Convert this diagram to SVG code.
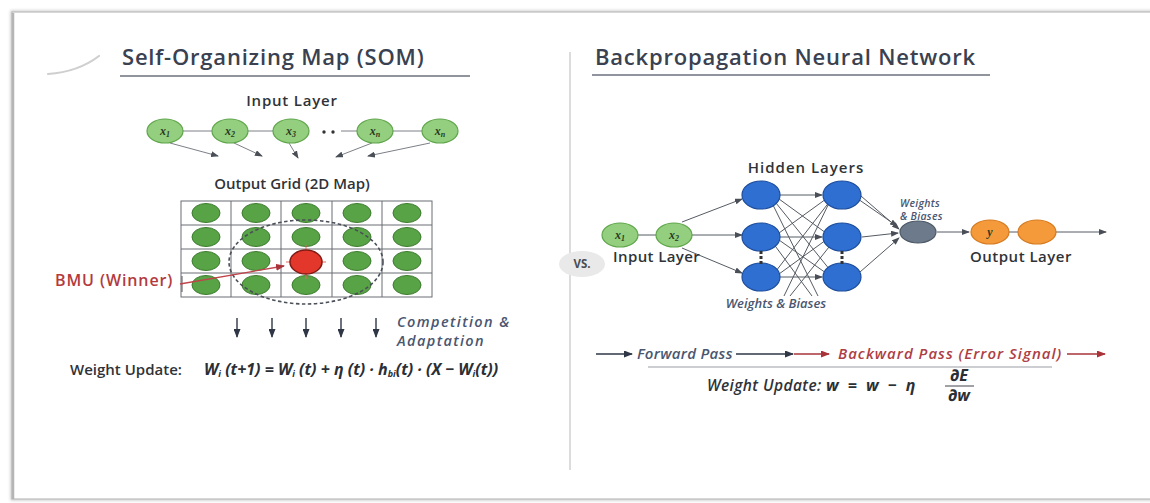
<svg xmlns="http://www.w3.org/2000/svg" width="1150" height="503" viewBox="0 0 1150 503">
<style>
  .title{font-family:"Open Sans","Liberation Sans",sans-serif;font-size:22px;font-weight:600;letter-spacing:0.8px;fill:#3a4150}
  .lbl{font-family:"Open Sans","Liberation Sans",sans-serif;font-size:15px;font-weight:600;fill:#2f3338}
  .ital{font-family:"Open Sans","Liberation Sans",sans-serif;font-style:italic;font-weight:600;fill:#4a5670}
  .var{font-family:"Liberation Serif","DejaVu Serif",serif;font-style:italic;font-weight:700;font-size:12px;fill:#2a3a22}
  .math{font-family:"Open Sans","Liberation Sans",sans-serif;font-style:italic;font-weight:700;font-size:16px;fill:#2b2f36}
  .inNode{fill:#94cf7f;stroke:#5fa64b;stroke-width:1.2}
  .gridNode{fill:#58a346;stroke:#3d7b2f;stroke-width:1}
  .blue{fill:#2f6fd2;stroke:#1c4d9c;stroke-width:1.2}
  .edge{stroke:#555b63;stroke-width:1;fill:none}
  .gedge{stroke:#7c8087;stroke-width:1;fill:none}
  .dark{stroke:#2f3746;stroke-width:1.4;fill:none}
  .red{stroke:#a8343a;stroke-width:1.4;fill:none}
</style>
<defs>
  <marker id="ah" markerWidth="8" markerHeight="6" refX="7" refY="3" orient="auto" markerUnits="userSpaceOnUse">
    <path d="M0,0 L8,3 L0,6 Z" fill="#4a4f57"/>
  </marker>
  <marker id="ahDark" markerWidth="9" markerHeight="7" refX="8" refY="3.5" orient="auto" markerUnits="userSpaceOnUse">
    <path d="M0,0 L9,3.5 L0,7 Z" fill="#2f3746"/>
  </marker>
  <marker id="ahRed" markerWidth="9" markerHeight="7" refX="8" refY="3.5" orient="auto" markerUnits="userSpaceOnUse">
    <path d="M0,0 L9,3.5 L0,7 Z" fill="#a8343a"/>
  </marker>
  <filter id="shadow" x="-2%" y="-2%" width="104%" height="104%">
    <feGaussianBlur stdDeviation="1.5"/>
  </filter>
</defs>

<!-- card frame -->
<rect x="0" y="0" width="1150" height="503" fill="#ffffff"/>
<rect x="12" y="12" width="1150" height="487" fill="none" stroke="#c9c9c9" stroke-width="3" filter="url(#shadow)"/>
<rect x="12" y="12" width="1150" height="487" fill="#ffffff" stroke="#bdbdbd" stroke-width="1.2"/>
<line x1="13" y1="13" x2="13" y2="499" stroke="#b5b5b5" stroke-width="2.5"/>

<!-- corner swoosh -->
<path d="M48,74 Q78,72 99,56" fill="none" stroke="#cfcfcf" stroke-width="2.2" stroke-linecap="round"/>

<!-- column divider -->
<line x1="570" y1="52" x2="570" y2="470" stroke="#d0d0d0" stroke-width="1.5"/>

<!-- titles -->
<g id="title-som">
  <text class="title" x="122" y="65">Self-Organizing Map (SOM)</text>
  <line x1="120" y1="76" x2="470" y2="76" stroke="#6b717c" stroke-width="1.3"/>
</g>
<g id="title-bp">
  <text class="title" x="595" y="65" letter-spacing="1">Backpropagation Neural Network</text>
  <line x1="592" y1="75" x2="990" y2="75" stroke="#6b717c" stroke-width="1.3"/>
</g>

<!-- ============ SOM ============ -->
<text class="lbl" x="292" y="106" text-anchor="middle" font-size="15.5" letter-spacing="0.8">Input Layer</text>

<g id="connectors-som">
  <!-- chain between input units -->
  <line class="gedge" x1="183" y1="131" x2="212" y2="131"/>
  <line class="gedge" x1="248" y1="131" x2="273" y2="131"/>
  <line class="gedge" x1="341" y1="131" x2="357" y2="131"/>
  <line class="gedge" x1="393" y1="131" x2="422" y2="131"/>
  <!-- inputs feeding the map -->
  <line class="gedge" x1="170" y1="143" x2="218" y2="156" marker-end="url(#ah)"/>
  <line class="gedge" x1="234" y1="143" x2="262" y2="156" marker-end="url(#ah)"/>
  <line class="gedge" x1="289" y1="143" x2="298" y2="158" marker-end="url(#ah)"/>
  <line class="gedge" x1="372" y1="143" x2="336" y2="157" marker-end="url(#ah)"/>
  <line class="gedge" x1="430" y1="143" x2="368" y2="156" marker-end="url(#ah)"/>
</g>

<g id="som-x1"><ellipse class="inNode" cx="165" cy="131" rx="18" ry="12"/><text class="var" x="165" y="135" text-anchor="middle">x<tspan font-size="8" dy="2">1</tspan></text></g>
<g id="som-x2"><ellipse class="inNode" cx="230" cy="131" rx="18" ry="12"/><text class="var" x="230" y="135" text-anchor="middle">x<tspan font-size="8" dy="2">2</tspan></text></g>
<g id="som-x3"><ellipse class="inNode" cx="291" cy="131" rx="18" ry="12"/><text class="var" x="291" y="135" text-anchor="middle">x<tspan font-size="8" dy="2">3</tspan></text></g>
<g id="som-dots"><circle cx="324" cy="132" r="1.7" fill="#333"/><circle cx="333" cy="132" r="1.7" fill="#333"/></g>
<g id="som-xn1"><ellipse class="inNode" cx="375" cy="131" rx="18" ry="12"/><text class="var" x="375" y="135" text-anchor="middle">x<tspan font-size="8" dy="2">n</tspan></text></g>
<g id="som-xn2"><ellipse class="inNode" cx="440" cy="131" rx="18" ry="12"/><text class="var" x="440" y="135" text-anchor="middle">x<tspan font-size="8" dy="2">n</tspan></text></g>

<text class="lbl" x="292" y="189" text-anchor="middle" font-size="15.5">Output Grid (2D Map)</text>

<!-- output map grid -->
<g id="som-grid" stroke="#6a6d72" stroke-width="1" fill="none">
  <rect x="181" y="201" width="251" height="96"/>
  <line x1="231" y1="201" x2="231" y2="297"/>
  <line x1="281" y1="201" x2="281" y2="297"/>
  <line x1="332" y1="201" x2="332" y2="297"/>
  <line x1="382" y1="201" x2="382" y2="297"/>
  <line x1="181" y1="225" x2="432" y2="225"/>
  <line x1="181" y1="249" x2="432" y2="249"/>
  <line x1="181" y1="273" x2="432" y2="273"/>
</g>
<g id="som-units">
  <ellipse class="gridNode" cx="206" cy="213" rx="14" ry="9.5"/>
  <ellipse class="gridNode" cx="256" cy="213" rx="14" ry="9.5"/>
  <ellipse class="gridNode" cx="306" cy="213" rx="14" ry="9.5"/>
  <ellipse class="gridNode" cx="357" cy="213" rx="14" ry="9.5"/>
  <ellipse class="gridNode" cx="407" cy="213" rx="14" ry="9.5"/>
  <ellipse class="gridNode" cx="206" cy="237" rx="14" ry="9.5"/>
  <ellipse class="gridNode" cx="256" cy="237" rx="14" ry="9.5"/>
  <ellipse class="gridNode" cx="306" cy="237" rx="14" ry="9.5"/>
  <ellipse class="gridNode" cx="357" cy="237" rx="14" ry="9.5"/>
  <ellipse class="gridNode" cx="407" cy="237" rx="14" ry="9.5"/>
  <ellipse class="gridNode" cx="206" cy="261" rx="14" ry="9.5"/>
  <ellipse class="gridNode" cx="256" cy="261" rx="14" ry="9.5"/>
  <ellipse class="gridNode" cx="357" cy="261" rx="14" ry="9.5"/>
  <ellipse class="gridNode" cx="407" cy="261" rx="14" ry="9.5"/>
  <ellipse class="gridNode" cx="206" cy="285" rx="14" ry="9.5"/>
  <ellipse class="gridNode" cx="256" cy="285" rx="14" ry="9.5"/>
  <ellipse class="gridNode" cx="306" cy="285" rx="14" ry="9.5"/>
  <ellipse class="gridNode" cx="357" cy="285" rx="14" ry="9.5"/>
  <ellipse class="gridNode" cx="407" cy="285" rx="14" ry="9.5"/>
</g>

<!-- neighbourhood radius -->
<ellipse cx="306" cy="262" rx="77" ry="42" fill="none" stroke="#4a4f58" stroke-width="1.6" stroke-dasharray="3.5 2.5"/>

<g id="som-bmu">
  <g stroke="#e06a5a" stroke-width="1">
    <line x1="306" y1="245" x2="306" y2="250"/>
    <line x1="306" y1="274" x2="306" y2="279"/>
    <line x1="286" y1="262" x2="291" y2="262"/>
    <line x1="321" y1="262" x2="326" y2="262"/>
  </g>
  <ellipse cx="306" cy="262" rx="16" ry="12" fill="#e3372b" stroke="#7e1b14" stroke-width="1.5"/>
</g>

<g id="bmu-label">
  <text x="55" y="286" font-family="'Open Sans','Liberation Sans',sans-serif" font-size="16" font-weight="600" letter-spacing="0.9" fill="#b33a3e">BMU (Winner)</text>
  <line x1="182" y1="276" x2="182" y2="292" stroke="#555" stroke-width="1"/>
  <line x1="180" y1="284" x2="284" y2="266" stroke="#c0434a" stroke-width="1.3" marker-end="url(#ahRed)"/>
</g>

<g id="som-adapt" class="dark">
  <line x1="237" y1="318" x2="237" y2="337" marker-end="url(#ahDark)"/>
  <line x1="272" y1="318" x2="272" y2="337" marker-end="url(#ahDark)"/>
  <line x1="306" y1="318" x2="306" y2="337" marker-end="url(#ahDark)"/>
  <line x1="341" y1="318" x2="341" y2="337" marker-end="url(#ahDark)"/>
  <line x1="376" y1="318" x2="376" y2="337" marker-end="url(#ahDark)"/>
</g>
<text class="ital" font-size="14.5" letter-spacing="1.4" x="397" y="327">Competition &amp;</text>
<text class="ital" font-size="14.5" letter-spacing="1.4" x="397" y="346">Adaptation</text>

<g id="som-update">
  <text class="lbl" x="70" y="375" font-size="14">Weight Update:</text>
  <text class="math" x="204" y="375">W<tspan font-size="9" dy="2">i</tspan><tspan dy="-2"> (t+1) = W</tspan><tspan font-size="9" dy="2">i</tspan><tspan dy="-2"> (t) + η (t) · h</tspan><tspan font-size="9" dy="2">bi</tspan><tspan dy="-2">(t) · (X − W</tspan><tspan font-size="9" dy="2">i</tspan><tspan dy="-2">(t))</tspan></text>
</g>

<!-- versus badge -->
<g id="vs">
  <ellipse cx="582" cy="264" rx="23" ry="13" fill="#e9e9e9"/>
  <text x="582" y="268" text-anchor="middle" font-family="'Open Sans','Liberation Sans',sans-serif" font-size="11.5" font-weight="700" fill="#4a4d52">VS.</text>
</g>

<!-- ============ Backpropagation ============ -->
<text class="lbl" x="806" y="173" text-anchor="middle" font-size="16" letter-spacing="1">Hidden Layers</text>

<g id="connectors-bp">
  <line class="edge" x1="638" y1="235" x2="656" y2="235"/>
  <!-- input to first hidden layer -->
  <line class="edge" x1="682" y1="222" x2="742" y2="199" marker-end="url(#ah)"/>
  <line class="edge" x1="692" y1="235" x2="742" y2="235" marker-end="url(#ah)"/>
  <line class="edge" x1="682" y1="248" x2="742" y2="273" marker-end="url(#ah)"/>
  <!-- hidden to hidden, fully connected -->
  <line class="edge" x1="780" y1="195" x2="822" y2="195" marker-end="url(#ah)"/>
  <line class="edge" x1="779" y1="199" x2="826" y2="233"/>
  <line class="edge" x1="776" y1="203" x2="830" y2="270"/>
  <line class="edge" x1="780" y1="237" x2="822" y2="237" marker-end="url(#ah)"/>
  <line class="edge" x1="779" y1="233" x2="826" y2="199"/>
  <line class="edge" x1="779" y1="240" x2="826" y2="273"/>
  <line class="edge" x1="780" y1="277" x2="822" y2="277" marker-end="url(#ah)"/>
  <line class="edge" x1="776" y1="271" x2="830" y2="201"/>
  <line class="edge" x1="779" y1="274" x2="826" y2="240"/>
  <!-- weight lines reaching the caption -->
  <line class="edge" x1="830" y1="201" x2="784" y2="296"/>
  <line class="edge" x1="833" y1="242" x2="790" y2="296"/>
  <line class="edge" x1="772" y1="203" x2="818" y2="296"/>
  <line class="edge" x1="773" y1="243" x2="812" y2="296"/>
  <!-- second hidden layer to the summing unit -->
  <line class="edge" x1="858" y1="199" x2="897" y2="226" marker-end="url(#ah)"/>
  <line class="edge" x1="861" y1="196" x2="899" y2="229" marker-end="url(#ah)"/>
  <line class="edge" x1="862" y1="237" x2="898" y2="233" marker-end="url(#ah)"/>
  <line class="edge" x1="860" y1="272" x2="899" y2="238" marker-end="url(#ah)"/>
  <!-- toward the output -->
  <line class="edge" x1="937" y1="232" x2="969" y2="232" marker-end="url(#ah)"/>
  <line class="edge" x1="1009" y1="232" x2="1018" y2="232"/>
  <line class="edge" x1="1056" y1="232" x2="1106" y2="232" marker-end="url(#ah)"/>
</g>

<g id="bp-x1"><ellipse class="inNode" cx="620" cy="235" rx="18" ry="12"/><text class="var" x="620" y="239" text-anchor="middle">x<tspan font-size="8" dy="2">1</tspan></text></g>
<g id="bp-x2"><ellipse class="inNode" cx="674" cy="235" rx="18" ry="12"/><text class="var" x="674" y="239" text-anchor="middle">x<tspan font-size="8" dy="2">2</tspan></text></g>
<text class="lbl" x="613" y="262" font-size="16" letter-spacing="0.4">Input Layer</text>

<g id="bp-h1a"><ellipse class="blue" cx="761" cy="195" rx="19" ry="14"/></g>
<g id="bp-h1b"><ellipse class="blue" cx="761" cy="237" rx="19" ry="14"/></g>
<g id="bp-h1c"><ellipse class="blue" cx="761" cy="277" rx="19" ry="14"/></g>
<g id="bp-h2a"><ellipse class="blue" cx="842" cy="195" rx="19" ry="14"/></g>
<g id="bp-h2b"><ellipse class="blue" cx="842" cy="237" rx="19" ry="14"/></g>
<g id="bp-h2c"><ellipse class="blue" cx="842" cy="277" rx="19" ry="14"/></g>
<g id="bp-dots" fill="#333">
  <rect x="759.5" y="251" width="3" height="3"/><rect x="759.5" y="256" width="3" height="3"/><rect x="759.5" y="261" width="3" height="3"/>
  <rect x="840.5" y="251" width="3" height="3"/><rect x="840.5" y="256" width="3" height="3"/><rect x="840.5" y="261" width="3" height="3"/>
</g>

<g id="bp-sum"><ellipse cx="918" cy="232" rx="18" ry="11" fill="#6c7a8b" stroke="#4c5866" stroke-width="1.2"/></g>
<text class="ital" font-size="10.5" letter-spacing="0.3" x="900" y="207">Weights</text>
<text class="ital" font-size="10.5" letter-spacing="0.3" x="900" y="220">&amp; Biases</text>

<g id="bp-y"><ellipse cx="990" cy="232" rx="19" ry="12" fill="#f59a3b" stroke="#d57a1f" stroke-width="1.2"/><text class="var" x="990" y="236" text-anchor="middle" fill="#5a3410">y</text></g>
<g id="bp-out2"><ellipse cx="1037" cy="232" rx="19" ry="12" fill="#f59a3b" stroke="#d57a1f" stroke-width="1.2"/></g>
<text class="lbl" x="970" y="262" font-size="16" letter-spacing="0.5">Output Layer</text>

<text class="ital" font-size="13" x="776" y="308" text-anchor="middle">Weights &amp; Biases</text>

<!-- pass legend -->
<g id="bp-passes">
  <line class="dark" x1="596" y1="354" x2="632" y2="354" marker-end="url(#ahDark)"/>
  <text class="ital" font-size="15" letter-spacing="0.3" x="637" y="359" fill="#3f4e6c">Forward Pass</text>
  <line class="dark" x1="736" y1="354" x2="793" y2="354" marker-end="url(#ahDark)"/>
  <line class="red" x1="794" y1="354" x2="829" y2="354" marker-end="url(#ahRed)"/>
  <text class="ital" font-size="15" letter-spacing="1" x="838" y="359" style="fill:#ad3e45">Backward Pass (Error Signal)</text>
  <line class="red" x1="1067" y1="354" x2="1105" y2="354" marker-end="url(#ahRed)"/>
  <line x1="648" y1="367" x2="1052" y2="367" stroke="#9a9ea5" stroke-width="1.2"/>
</g>
<g id="bp-update">
  <text class="ital" font-size="15.5" letter-spacing="0.4" x="707" y="391" style="fill:#2f3338">Weight Update:</text>
  <text class="math" x="826" y="391" letter-spacing="1" word-spacing="3">w = w − η</text>
  <text class="math" font-size="12" x="959" y="381" text-anchor="middle">∂E</text>
  <line x1="945" y1="386" x2="974" y2="386" stroke="#2b2f36" stroke-width="0.9"/>
  <text class="math" font-size="12" x="959" y="401" text-anchor="middle">∂w</text>
</g>
</svg>
